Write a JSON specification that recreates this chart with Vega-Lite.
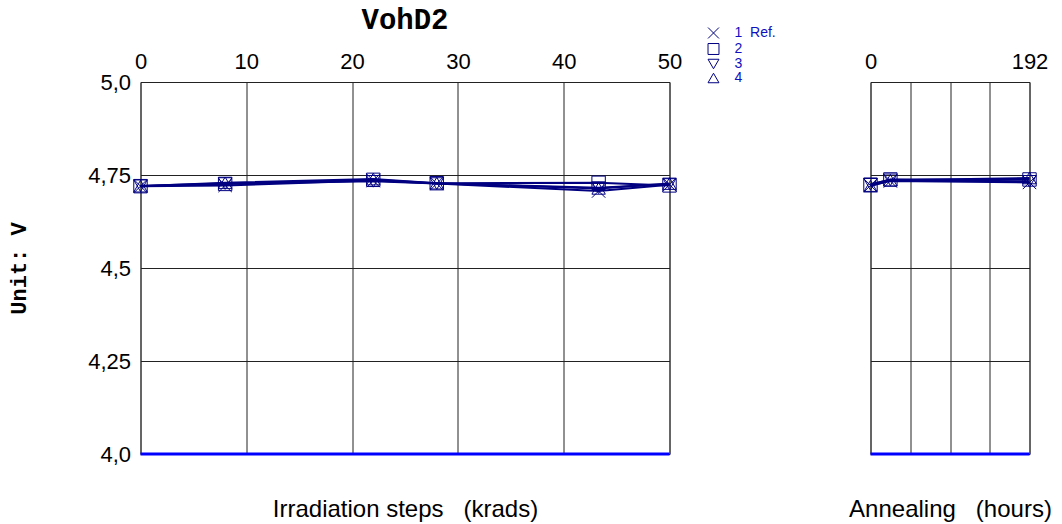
{
  "$schema": "https://vega.github.io/schema/vega-lite/v6.json",
  "padding": {"left": 6.5, "top": 5, "right": 0, "bottom": 0},
  "bounds": "flush",
  "spacing": 201,
  "background": "white",
  "config": {
    "view": {"stroke": "#555", "strokeWidth": 1},
    "title": {"font": "Liberation Mono", "fontSize": 29, "fontWeight": "bold", "color": "#000"},
    "axis": {"labelFont": "Liberation Sans", "titleFont": "Liberation Sans", "labelColor": "#000", "titleColor": "#000", "ticks": false, "domain": false, "gridColor": "#222", "gridOpacity": 1, "gridWidth": 1, "labelFlush": false, "labelOverlap": false},
    "legend": {"orient": "none", "legendX": 566, "legendY": -56, "labelFont": "Liberation Sans", "labelFontSize": 14, "labelColor": "#1010C0", "symbolStrokeColor": "#000080", "symbolFillColor": "transparent", "symbolStrokeWidth": 1, "symbolSize": 120, "rowPadding": 0, "labelOffset": 14, "title": null}
  },
  "datasets": {
    "irr": [
      {"series": "1\u00a0\u00a0Ref.", "krad": 0, "v": 4.72},
      {"series": "1\u00a0\u00a0Ref.", "krad": 8, "v": 4.722},
      {"series": "1\u00a0\u00a0Ref.", "krad": 22, "v": 4.735},
      {"series": "1\u00a0\u00a0Ref.", "krad": 28, "v": 4.727},
      {"series": "1\u00a0\u00a0Ref.", "krad": 43.3, "v": 4.707},
      {"series": "1\u00a0\u00a0Ref.", "krad": 50, "v": 4.724},
      {"series": "2", "krad": 0, "v": 4.72},
      {"series": "2", "krad": 8, "v": 4.726},
      {"series": "2", "krad": 22, "v": 4.737},
      {"series": "2", "krad": 28, "v": 4.728},
      {"series": "2", "krad": 43.3, "v": 4.729},
      {"series": "2", "krad": 50, "v": 4.722},
      {"series": "3", "krad": 0, "v": 4.721},
      {"series": "3", "krad": 8, "v": 4.727},
      {"series": "3", "krad": 22, "v": 4.733},
      {"series": "3", "krad": 28, "v": 4.727},
      {"series": "3", "krad": 43.3, "v": 4.716},
      {"series": "3", "krad": 50, "v": 4.726},
      {"series": "4", "krad": 0, "v": 4.72},
      {"series": "4", "krad": 8, "v": 4.729},
      {"series": "4", "krad": 22, "v": 4.739},
      {"series": "4", "krad": 28, "v": 4.728},
      {"series": "4", "krad": 43.3, "v": 4.714},
      {"series": "4", "krad": 50, "v": 4.727}
    ],
    "ann": [
      {"series": "1\u00a0\u00a0Ref.", "hours": 0, "v": 4.722},
      {"series": "1\u00a0\u00a0Ref.", "hours": 24, "v": 4.734},
      {"series": "1\u00a0\u00a0Ref.", "hours": 192, "v": 4.73},
      {"series": "2", "hours": 0, "v": 4.724},
      {"series": "2", "hours": 24, "v": 4.738},
      {"series": "2", "hours": 192, "v": 4.738},
      {"series": "3", "hours": 0, "v": 4.725},
      {"series": "3", "hours": 24, "v": 4.737},
      {"series": "3", "hours": 192, "v": 4.733},
      {"series": "4", "hours": 0, "v": 4.72},
      {"series": "4", "hours": 24, "v": 4.736},
      {"series": "4", "hours": 192, "v": 4.742}
    ],
    "limit": [{"lim": 4.0}]
  },
  "hconcat": [
    {
      "width": 529,
      "height": 372,
      "title": {"text": "VohD2", "font": "Liberation Mono", "fontSize": 29, "fontWeight": "bold", "color": "#000", "offset": 15, "frame": "group", "anchor": "middle"},
      "layer": [
        {
          "data": {"name": "limit"},
          "mark": {"type": "rule", "color": "#0000FF", "strokeWidth": 3},
          "encoding": {
            "y": {"field": "lim", "type": "quantitative", "scale": {"domain": [4, 5], "nice": false, "zero": false},
              "axis": {"values": [4, 4.25, 4.5, 4.75, 5], "grid": true, "labelFontSize": 22, "labelPadding": 10,
                "labelExpr": "datum.value == 5 ? '5,0' : datum.value == 4 ? '4,0' : replace(format(datum.value, '.2~f'), '.', ',')",
                "title": "Unit: V", "titleFont": "Liberation Mono", "titleFontSize": 22, "titleFontWeight": "bold",
                "titleX": -122, "titleY": 186, "titleAngle": 270, "titleAlign": "center", "titleBaseline": "middle"}}
          }
        },
        {
          "data": {"name": "irr"},
          "mark": {"type": "line", "color": "#000080", "strokeWidth": 2},
          "encoding": {
            "x": {"field": "krad", "type": "quantitative", "scale": {"domain": [0, 50], "nice": false},
              "axis": {"orient": "top", "values": [0, 10, 20, 30, 40, 50], "grid": true, "labelFontSize": 22, "labelPadding": 9,
                "title": "Irradiation steps\u00a0\u00a0\u00a0(krads)", "titleFontSize": 24, "titleFontWeight": "normal",
                "titleY": 434, "titleBaseline": "alphabetic"}},
            "y": {"field": "v", "type": "quantitative"},
            "detail": {"field": "series"}
          }
        },
        {
          "data": {"name": "irr"},
          "mark": {"type": "point", "filled": false, "color": "#000080", "size": 180, "strokeWidth": 1, "opacity": 1},
          "encoding": {
            "x": {"field": "krad", "type": "quantitative",
              "axis": {"orient": "top", "values": [0, 10, 20, 30, 40, 50], "grid": true, "labelFontSize": 22, "labelPadding": 9,
                "title": "Irradiation steps\u00a0\u00a0\u00a0(krads)", "titleFontSize": 24, "titleFontWeight": "normal",
                "titleY": 434, "titleBaseline": "alphabetic"}},
            "y": {"field": "v", "type": "quantitative"},
            "shape": {"field": "series", "type": "nominal",
              "scale": {"domain": ["1\u00a0\u00a0Ref.", "2", "3", "4"], "range": ["M-1,-1L1,1M-1,1L1,-1", "square", "triangle-down", "triangle-up"]}}
          }
        }
      ]
    },
    {
      "width": 159,
      "height": 372,
      "layer": [
        {
          "data": {"name": "limit"},
          "mark": {"type": "rule", "color": "#0000FF", "strokeWidth": 3},
          "encoding": {
            "y": {"field": "lim", "type": "quantitative", "scale": {"domain": [4, 5], "nice": false, "zero": false},
              "axis": {"values": [4, 4.25, 4.5, 4.75, 5], "grid": true, "labels": false, "title": null}}
          }
        },
        {
          "data": {"name": "ann"},
          "mark": {"type": "line", "color": "#000080", "strokeWidth": 2},
          "encoding": {
            "x": {"field": "hours", "type": "quantitative", "scale": {"domain": [0, 192], "nice": false},
              "axis": {"orient": "top", "values": [0, 48, 96, 144, 192], "grid": true, "labelFontSize": 22, "labelPadding": 9,
                "labelExpr": "datum.value == 0 || datum.value == 192 ? datum.label : ''",
                "title": "Annealing\u00a0\u00a0\u00a0(hours)", "titleFontSize": 24, "titleFontWeight": "normal",
                "titleY": 434, "titleBaseline": "alphabetic"}},
            "y": {"field": "v", "type": "quantitative"},
            "detail": {"field": "series"}
          }
        },
        {
          "data": {"name": "ann"},
          "mark": {"type": "point", "filled": false, "color": "#000080", "size": 180, "strokeWidth": 1, "opacity": 1},
          "encoding": {
            "x": {"field": "hours", "type": "quantitative",
              "axis": {"orient": "top", "values": [0, 48, 96, 144, 192], "grid": true, "labelFontSize": 22, "labelPadding": 9,
                "labelExpr": "datum.value == 0 || datum.value == 192 ? datum.label : ''",
                "title": "Annealing\u00a0\u00a0\u00a0(hours)", "titleFontSize": 24, "titleFontWeight": "normal",
                "titleY": 434, "titleBaseline": "alphabetic"}},
            "y": {"field": "v", "type": "quantitative"},
            "shape": {"field": "series", "type": "nominal",
              "scale": {"domain": ["1\u00a0\u00a0Ref.", "2", "3", "4"], "range": ["M-1,-1L1,1M-1,1L1,-1", "square", "triangle-down", "triangle-up"]}}
          }
        }
      ]
    }
  ]
}
